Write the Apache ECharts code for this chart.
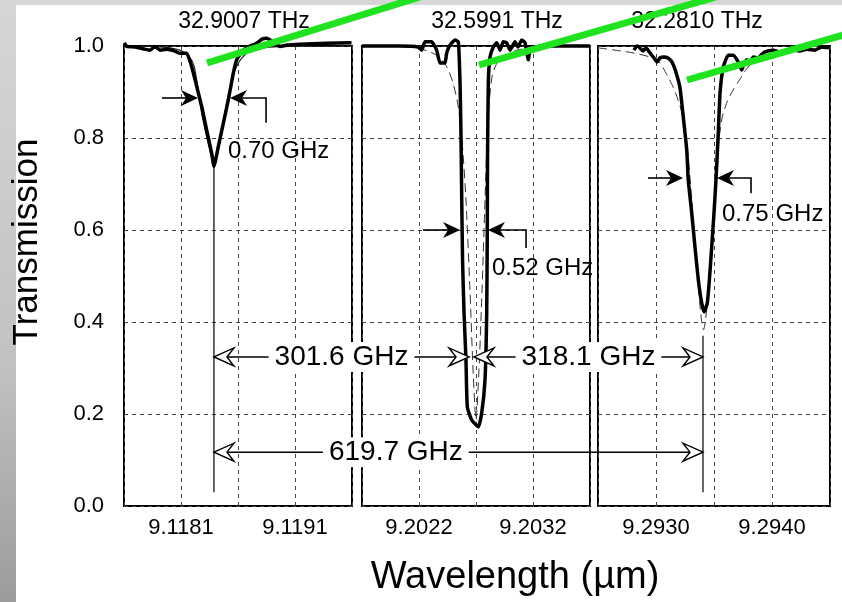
<!DOCTYPE html>
<html><head><meta charset="utf-8">
<script src="https://cdn.jsdelivr.net/npm/echarts@6/dist/echarts.min.js"></script>
<style>html,body{margin:0;padding:0;background:#fff}#c{width:842px;height:602px}</style>
</head><body><div id="c"></div>
<script>
// ---------------- DATA ----------------
// Each panel shows a 0.002 µm wavelength window starting at:
const panelStart = [9.1176, 9.2017, 9.2925];
const tickLabels = [['9.1181', '9.1191'], ['9.2022', '9.2032'], ['9.2930', '9.2940']];
const yTickLabels = ['0.0', '0.2', '0.4', '0.6', '0.8', '1.0'];
const resonanceLabels = ['32.9007 THz', '32.5991 THz', '32.2810 THz'];
const fwhmLabels = ['0.70 GHz', '0.52 GHz', '0.75 GHz'];
const spacingLabels = ['301.6 GHz', '318.1 GHz', '619.7 GHz'];

// Panel 1 (measured, thick) wavelength (µm) / transmission
const meas1WL = [9.117602, 9.117624, 9.117696, 9.117828, 9.117872, 9.117916, 9.117975, 9.118047, 9.118091, 9.118150, 9.118194, 9.118238, 9.118282, 9.118325, 9.118369, 9.118389, 9.118427, 9.118471, 9.118515, 9.118559, 9.118589, 9.118647, 9.118705, 9.118764, 9.118811, 9.118852, 9.118910, 9.118968, 9.119027, 9.119144, 9.119378, 9.119596];
const meas1T  = [1.007, 0.999, 0.998, 0.991, 0.999, 0.991, 0.993, 0.989, 0.984, 0.984, 0.955, 0.912, 0.868, 0.817, 0.767, 0.738, 0.781, 0.832, 0.883, 0.941, 0.970, 0.991, 1.000, 1.006, 1.015, 1.017, 1.009, 0.999, 1.002, 1.004, 1.006, 1.007];
// Panel 1 (fit, thin)
const fit1WL = [9.117600, 9.117828, 9.118004, 9.118109, 9.118179, 9.118214, 9.118249, 9.118284, 9.118324, 9.118363, 9.118389, 9.118416, 9.118451, 9.118486, 9.118521, 9.118556, 9.118591, 9.118635, 9.118705, 9.118811, 9.119056, 9.119600];
const fit1T  = [1.000, 0.999, 0.996, 0.989, 0.974, 0.957, 0.909, 0.850, 0.804, 0.763, 0.743, 0.763, 0.804, 0.857, 0.900, 0.935, 0.957, 0.974, 0.989, 0.996, 0.999, 1.000];

// Panel 2 (measured)
const meas2WL = [9.201700, 9.202033, 9.202191, 9.202224, 9.202253, 9.202311, 9.202355, 9.202384, 9.202428, 9.202443, 9.202472, 9.202516, 9.202545, 9.202560, 9.202568, 9.202575, 9.202582, 9.202595, 9.202612, 9.202624, 9.202662, 9.202720, 9.202750, 9.202779, 9.202794, 9.202799, 9.202801, 9.202808, 9.202823, 9.202852, 9.202882, 9.202911, 9.202939, 9.202969, 9.202998, 9.203042, 9.203068, 9.203101, 9.203130, 9.203159, 9.203174, 9.203261, 9.203700];
const meas2T  = [1.000, 1.000, 0.998, 0.991, 1.009, 1.009, 0.991, 0.963, 0.963, 0.985, 1.002, 1.013, 1.009, 0.920, 0.811, 0.665, 0.535, 0.420, 0.317, 0.215, 0.187, 0.172, 0.202, 0.274, 0.420, 0.600, 0.752, 0.920, 0.976, 0.998, 1.007, 0.991, 1.009, 1.007, 0.991, 1.009, 0.998, 1.013, 1.007, 0.970, 0.991, 1.000, 1.000];
// Panel 2 (fit, dashed)
const fit2WL = [9.201700, 9.202121, 9.202253, 9.202367, 9.202446, 9.202498, 9.202542, 9.202577, 9.202612, 9.202647, 9.202674, 9.202700, 9.202726, 9.202753, 9.202779, 9.202805, 9.202840, 9.202884, 9.202937, 9.203060, 9.203261, 9.203700];
const fit2T  = [1.000, 0.998, 0.991, 0.978, 0.954, 0.920, 0.872, 0.796, 0.665, 0.470, 0.296, 0.187, 0.296, 0.470, 0.665, 0.839, 0.933, 0.963, 0.976, 0.991, 0.998, 1.000];

// Panel 3 (measured)
const meas3WL = [9.292810, 9.292836, 9.292862, 9.292888, 9.292914, 9.292948, 9.292983, 9.293009, 9.293034, 9.293069, 9.293103, 9.293138, 9.293172, 9.293207, 9.293235, 9.293265, 9.293278, 9.293308, 9.293336, 9.293365, 9.293394, 9.293416, 9.293442, 9.293460, 9.293480, 9.293500, 9.293517, 9.293537, 9.293552, 9.293580, 9.293623, 9.293666, 9.293710, 9.293739, 9.293759, 9.293782, 9.293810, 9.293839, 9.293879, 9.293925, 9.293966, 9.294011, 9.294069, 9.294155, 9.294241, 9.294299, 9.294371, 9.294431, 9.294491];
const meas3T  = [0.991, 1.000, 0.996, 0.989, 0.996, 0.985, 0.974, 0.965, 0.974, 0.976, 0.974, 0.965, 0.943, 0.909, 0.846, 0.774, 0.709, 0.637, 0.563, 0.491, 0.441, 0.422, 0.441, 0.491, 0.563, 0.637, 0.709, 0.811, 0.898, 0.954, 0.980, 0.980, 0.965, 0.948, 0.961, 0.970, 0.965, 0.976, 0.974, 0.985, 0.989, 0.991, 0.987, 0.993, 0.989, 0.993, 0.991, 0.998, 0.996];
// Panel 3 (fit, dashed)
const fit3WL = [9.292500, 9.292647, 9.292802, 9.292974, 9.293034, 9.293095, 9.293147, 9.293190, 9.293233, 9.293267, 9.293302, 9.293336, 9.293371, 9.293392, 9.293410, 9.293427, 9.293448, 9.293483, 9.293513, 9.293543, 9.293569, 9.293612, 9.293664, 9.293724, 9.293793, 9.293897, 9.294069, 9.294285, 9.294500];
const fit3T  = [0.996, 0.991, 0.985, 0.974, 0.963, 0.937, 0.911, 0.883, 0.846, 0.785, 0.687, 0.567, 0.459, 0.404, 0.383, 0.404, 0.459, 0.567, 0.698, 0.796, 0.843, 0.878, 0.904, 0.928, 0.954, 0.972, 0.985, 0.991, 0.996];

// resonance centre wavelengths (µm) and the depth reached by the marker lines
const centreWL = [9.118389, 9.202660, 9.293405];
const centreLineTop = [0.74, null, 0.37];
const centreLineBottom = 0.03;

// FWHM markers per panel: [lineStartWL, leftTipWL, rightTipWL, bracketWL, T, bracketEndT, labelWL, labelT]
const fwhmMarks = [
  [9.117933, 9.118249, 9.118530, 9.118846, 0.887, 0.833, 9.118512, 0.770],
  [9.202235, 9.202560, 9.202805, 9.203139, 0.600, 0.561, 9.202840, 0.517],
  [9.292931, 9.293233, 9.293526, 9.293819, 0.713, 0.680, 9.293569, 0.633]
];
// spacing arrows: [fromPanel, fromWL, toPanel, toWL, T, labelFraction]
const spacingMarks = [
  [0, 9.118389, 1, 9.202639, 0.324, 0.5],
  [1, 9.202682, 2, 9.293405, 0.324, 0.5],
  [0, 9.118389, 2, 9.293405, 0.117, 0.372]
];

// ---------------- CHART ----------------
const FONT = '"Liberation Sans", Arial, Helvetica, sans-serif';
const chart = echarts.init(document.getElementById('c'), null, {renderer: 'canvas'});
const gridPos = [{left: 124, width: 228}, {left: 362, width: 228}, {left: 598, width: 232}];
const toOff = (i, wl) => (wl - panelStart[i]) * 1000; // nm offset inside panel
const pairs = (i, wl, t) => wl.map((w, k) => [toOff(i, w), t[k]]);
const dashStyle = {type: [4, 4], color: '#444', width: 1};

const grid = gridPos.map(g => ({left: g.left, width: g.width, top: 46, height: 460, show: true,
  borderColor: '#000', borderWidth: 2, backgroundColor: 'transparent'}));
const xAxis = [0, 1, 2].map(i => ({
  type: 'value', gridIndex: i, min: 0, max: 2, interval: 0.5,
  axisLine: {show: false}, axisTick: {show: false},
  splitLine: {show: true, lineStyle: dashStyle},
  axisLabel: {fontSize: 22, color: '#000', fontFamily: FONT, margin: 11,
    formatter: v => Math.abs(v - 0.5) < 1e-9 ? tickLabels[i][0] : (Math.abs(v - 1.5) < 1e-9 ? tickLabels[i][1] : '')}
}));
const yAxis = [0, 1, 2].map(i => ({
  type: 'value', gridIndex: i, min: 0, max: 1, interval: 0.2,
  axisLine: {show: false}, axisTick: {show: false},
  splitLine: {show: true, lineStyle: dashStyle},
  axisLabel: i === 0 ? {fontSize: 22, color: '#000', fontFamily: FONT, margin: 20,
    formatter: v => yTickLabels[Math.round(v / 0.2)]} : {show: false}
}));

const series = [];
const fits = [[fit1WL, fit1T], [fit2WL, fit2T], [fit3WL, fit3T]];
const meas = [[meas1WL, meas1T], [meas2WL, meas2T], [meas3WL, meas3T]];
for (let i = 0; i < 3; i++) {
  series.push({type: 'line', xAxisIndex: i, yAxisIndex: i, name: 'fit' + (i + 1), data: pairs(i, fits[i][0], fits[i][1]),
    showSymbol: false, clip: false, smooth: 0.25, silent: true,
    lineStyle: i === 0 ? {color: '#222', width: 1.2} : {color: '#333', width: 1, type: [9, 5]}, z: 2});
  series.push({type: 'line', xAxisIndex: i, yAxisIndex: i, name: 'measured' + (i + 1), data: pairs(i, meas[i][0], meas[i][1]),
    showSymbol: false, clip: false, smooth: 0.15, silent: true,
    lineStyle: {color: '#000', width: 3.5, join: 'round'}, z: 3});
  if (centreLineTop[i] !== null) {
    series.push({type: 'line', xAxisIndex: i, yAxisIndex: i, name: 'centre' + (i + 1),
      data: [[toOff(i, centreWL[i]), centreLineTop[i]], [toOff(i, centreWL[i]), centreLineBottom]],
      showSymbol: false, silent: true, lineStyle: {color: '#000', width: 1.2}, z: 4});
  }
}

chart.setOption({
  animation: false,
  backgroundColor: '#fff',
  textStyle: {fontFamily: FONT},
  grid, xAxis, yAxis, series
});

// ---------------- ANNOTATIONS ----------------
const P = (i, wl, t) => chart.convertToPixel({xAxisIndex: i, yAxisIndex: i}, [toOff(i, wl), t]);
const G = [];
// slide-like grey background frame
G.push({type: 'rect', z: -10, shape: {x: 0, y: 0, width: 842, height: 602},
  style: {fill: new echarts.graphic.LinearGradient(0, 0, 0, 1, [{offset: 0, color: '#d6d6d6'}, {offset: 0.6, color: '#c2c2c2'}, {offset: 1, color: '#9c9c9c'}])}, silent: true});
G.push({type: 'rect', z: -9, shape: {x: 16, y: 5, width: 826, height: 597}, style: {fill: '#fff'}, silent: true});

function head(tip, dir, L, H, N, open) {
  const [x, y] = tip;
  return {type: 'polygon', z: 120, silent: true,
    shape: {points: [[x, y], [x - dir * L, y - H], [x - dir * N, y], [x - dir * L, y + H]]},
    style: open ? {fill: '#fff', stroke: '#000', lineWidth: 1.4} : {fill: '#000'}};
}
function line(a, b, w) {
  return {type: 'line', z: 110, silent: true, shape: {x1: a[0], y1: a[1], x2: b[0], y2: b[1]}, style: {stroke: '#000', lineWidth: w || 1.4}};
}
function text(str, x, y, size, align, bg) {
  const st = {text: str, x: 0, y: 0, font: size + 'px ' + FONT, fill: '#000',
    align: align || 'center', verticalAlign: 'middle', textAlign: align || 'center', textVerticalAlign: 'middle'};
  if (bg) { st.backgroundColor = '#fff'; st.padding = [1, 6]; }
  return {type: 'text', z: 115, x, y, silent: true, style: st};
}

// FWHM markers
fwhmMarks.forEach((m, i) => {
  const [s, lt, rt, br, t, bt, lw, ltT] = m;
  const a = P(i, s, t), b = P(i, lt, t), c = P(i, rt, t), d = P(i, br, t), e = P(i, br, bt);
  G.push(line(a, [b[0] - 8, b[1]], 1.6));
  G.push(head(b, 1, 17, 8, 12, false));
  G.push({type: 'polyline', z: 110, silent: true, shape: {points: [[c[0] + 8, c[1]], d, e]}, style: {stroke: '#000', lineWidth: 1.6, fill: null}});
  G.push(head(c, -1, 17, 8, 12, false));
  const lp = P(i, lw, ltT);
  G.push(text(fwhmLabels[i], lp[0], lp[1], 24, 'left', false));
});

// spacing arrows
spacingMarks.forEach((m, k) => {
  const [pa, wa, pb, wb, t, frac] = m;
  const a = P(pa, wa, t), b = P(pb, wb, t);
  G.push(line([a[0] + 10, a[1]], [b[0] - 10, b[1]], 1.5));
  const cx = a[0] + (b[0] - a[0]) * frac;
  G.push(text(spacingLabels[k], cx, a[1], 28, 'center', true));
  G.push(head(a, -1, 20, 9, 13, true));
  G.push(head(b, 1, 20, 9, 13, true));
});

// resonance frequency labels above the panels
const topLabelX = [244, 497, 697];
resonanceLabels.forEach((s, i) => G.push(text(s, topLabelX[i], 22, 23, 'center', false)));

// axis titles
G.push({type: 'text', z: 115, x: 27, y: 242, rotation: Math.PI / 2, silent: true,
  style: {text: 'Transmission', x: 0, y: 0, font: '35px ' + FONT, fill: '#000', align: 'center', verticalAlign: 'middle', textAlign: 'center', textVerticalAlign: 'middle'}});
G.push(text('Wavelength (\u00b5m)', 515, 578, 38, 'center', false));

// bright green overlay strokes
const greenSegs = [[207, 63, 420, -3], [479, 65, 716, -3], [687, 80, 850, 33]];
greenSegs.forEach(g => G.push({type: 'line', z: 200, silent: true, shape: {x1: g[0], y1: g[1], x2: g[2], y2: g[3]},
  style: {stroke: '#1fe31f', lineWidth: 7, lineCap: 'butt'}}));

chart.setOption({graphic: G});
</script></body></html>
